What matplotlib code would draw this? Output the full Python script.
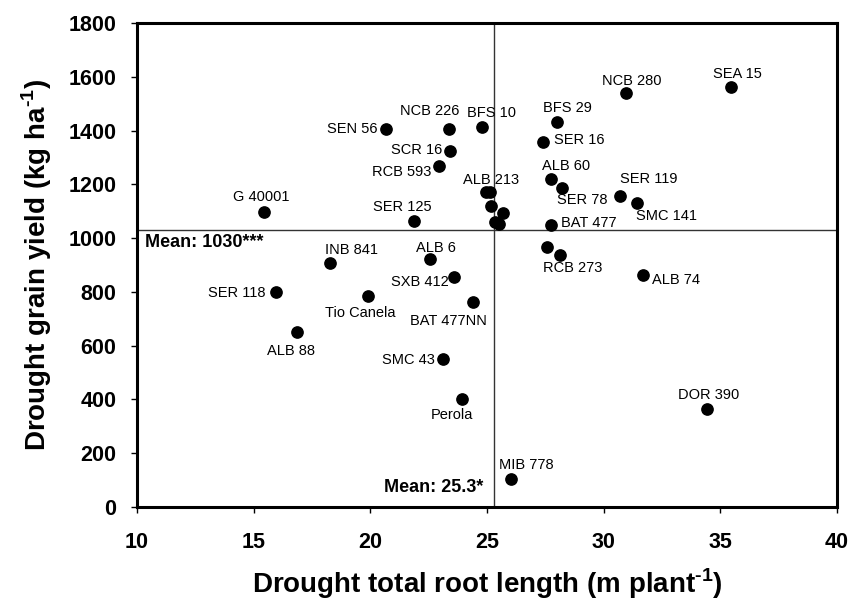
import matplotlib
matplotlib.use("Agg")
import matplotlib.pyplot as plt

plt.rcParams['font.family'] = ['Liberation Sans', 'DejaVu Sans']
plt.rcParams['mathtext.fontset'] = 'custom'
plt.rcParams['mathtext.rm'] = 'Liberation Sans:bold'
plt.rcParams['mathtext.bf'] = 'Liberation Sans:bold'

# genotype data (drought root length vs drought grain yield)
names = ["SEN 56", "G 40001", "SER 125", "INB 841", "NCB 226", "BFS 10",
         "SCR 16", "RCB 593", "ALB 213", "", "", "", "", "",
         "BFS 29", "SER 16", "NCB 280", "ALB 60", "SER 78", "SER 119",
         "SMC 141", "BAT 477", "", "RCB 273", "ALB 6", "ALB 74",
         "SXB 412", "BAT 477NN", "SMC 43", "Perola", "MIB 778",
         "SER 118", "Tio Canela", "ALB 88", "SEA 15", "DOR 390"]
root_length = [20.67, 15.46, 21.89, 18.27, 23.37, 24.79,
               23.40, 22.96, 24.95, 25.13, 25.16, 25.70, 25.34, 25.53,
               27.99, 27.39, 30.96, 27.75, 28.23, 30.72,
               31.42, 27.75, 27.59, 28.13, 22.56, 31.70,
               23.60, 24.39, 23.13, 23.91, 26.02,
               15.96, 19.91, 16.86, 35.46, 34.42]
grain_yield = [1405, 1098, 1062, 906, 1405, 1413,
               1325, 1269, 1170, 1170, 1120, 1092, 1059, 1052,
               1432, 1356, 1541, 1221, 1186, 1155,
               1129, 1049, 966, 937, 922, 863,
               856, 761, 549, 402, 104,
               798, 785, 651, 1563, 364]
mean_root = 25.3
mean_yield = 1030

x_ticks = [10, 15, 20, 25, 30, 35, 40]
y_ticks = [0, 200, 400, 600, 800, 1000, 1200, 1400, 1600, 1800]

# label placement (pixel offsets from each dot, horizontal alignment)
label_pos = {
    "SEN 56": (-8, 0, "right"), "G 40001": (-3, 15, "center"),
    "SER 125": (-12, 14, "center"), "INB 841": (-5, 13, "left"),
    "NCB 226": (-19, 18, "center"), "BFS 10": (9, 14, "center"),
    "SCR 16": (-7, 1, "right"), "RCB 593": (-8, -6, "right"),
    "ALB 213": (5, 12, "center"), "BFS 29": (11, 14, "center"),
    "SER 16": (11, 2, "left"), "NCB 280": (6, 12, "center"),
    "ALB 60": (15, 13, "center"), "SER 78": (20, -12, "center"),
    "SER 119": (0, 17, "left"), "SMC 141": (-1, -13, "left"),
    "BAT 477": (10, 2, "left"), "RCB 273": (13, -13, "center"),
    "ALB 6": (6, 11, "center"), "ALB 74": (9, -5, "left"),
    "SXB 412": (-6, -5, "right"), "BAT 477NN": (-24, -19, "center"),
    "SMC 43": (-8, -1, "right"), "Perola": (-10, -16, "center"),
    "MIB 778": (16, 14, "center"), "SER 118": (-11, -1, "right"),
    "Tio Canela": (-8, -17, "center"), "ALB 88": (-6, -19, "center"),
    "SEA 15": (6, 13, "center"), "DOR 390": (2, 14, "center"),
}

fig = plt.figure(figsize=(8.52, 6), dpi=100)
ax = fig.add_axes([137 / 852, 93 / 600, 700 / 852, 484 / 600])

# mean lines
ax.axvline(mean_root, color='#333333', lw=1, zorder=1)
ax.axhline(mean_yield, color='#333333', lw=1, zorder=1)

ax.scatter(root_length, grain_yield, s=66, color='black', zorder=3)

for name, x, y in zip(names, root_length, grain_yield):
    if not name:
        continue
    dx, dy, ha = label_pos[name]
    ax.annotate(name, (x, y), xytext=(dx, dy), textcoords='offset pixels',
                ha=ha, va='center', fontsize=10.5, zorder=4)

ax.text(10.34, 982, "Mean: 1030***", fontsize=13, fontweight='bold',
        ha='left', va='center')
ax.text(24.83, 71, "Mean: 25.3*", fontsize=13, fontweight='bold',
        ha='right', va='center')

ax.set_xlim(10, 40)
ax.set_ylim(0, 1800)
ax.set_xticks(x_ticks)
ax.set_yticks(y_ticks)
ax.tick_params(direction='out', length=4, width=1, labelsize=15.5)
ax.tick_params(axis='x', pad=14)
ax.tick_params(axis='y', pad=11)
for lab in ax.get_xticklabels() + ax.get_yticklabels():
    lab.set_fontweight('bold')
for sp in ax.spines.values():
    sp.set_linewidth(2.2)

ax.set_xlabel(r"Drought total root length (m plant$^{\text{-1}}$)",
              fontsize=20, fontweight='bold')
ax.set_ylabel(r"Drought grain yield (kg ha$^{\text{-1}}$)",
              fontsize=20, fontweight='bold')
ax.xaxis.set_label_coords(0.5, -0.122)
ax.yaxis.set_label_coords(-0.119, 0.5)

fig.savefig("out.png", dpi=100)
